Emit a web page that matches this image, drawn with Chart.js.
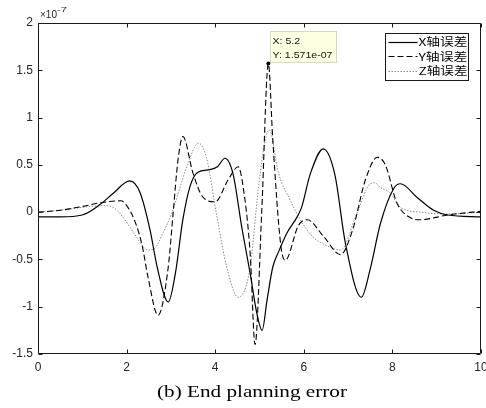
<!DOCTYPE html>
<html>
<head>
<meta charset="utf-8">
<script src="https://cdn.jsdelivr.net/npm/chart.js@4.4.1/dist/chart.umd.min.js"></script>
<style>
  html, body { margin: 0; padding: 0; background: #fff; }
  #wrap { width: 486px; height: 408px; }
</style>
</head>
<body>
<div id="wrap"><canvas id="errChart" width="486" height="408"></canvas></div>
<script>
// error values are stored in units of 1e-7
const EXPONENT = -7;
const xTicks = [0, 2, 4, 6, 8, 10];
const yTicks = [-1.5, -1, -0.5, 0, 0.5, 1, 1.5, 2];
const seriesNames = ["X轴误差", "Y轴误差", "Z轴误差"];
const caption = "(b) End planning error";

const tX = [0, 0.5, 1.0, 1.4, 1.7, 2.07, 2.3, 2.53, 2.69, 2.94, 3.1, 3.27, 3.43, 3.6, 3.88, 4.05, 4.22, 4.4, 4.6, 4.79, 4.94, 5.06, 5.17, 5.3, 5.43, 5.62, 5.85, 5.95, 6.15, 6.44, 6.7, 6.94, 7.3, 7.5, 7.73, 8.03, 8.18, 8.57, 8.93, 9.25, 10];
const errX = [-0.05, -0.05, -0.03, 0.08, 0.2, 0.33, 0.21, -0.19, -0.58, -0.95, -0.65, -0.08, 0.27, 0.42, 0.45, 0.48, 0.57, 0.41, -0.16, -0.65, -1.07, -1.25, -0.93, -0.58, -0.42, -0.22, -0.05, 0.05, 0.41, 0.67, 0.4, -0.33, -0.9, -0.6, -0.12, 0.25, 0.3, 0.15, 0.02, -0.03, -0.05];

const tY = [0, 0.5, 1.0, 1.42, 1.87, 2.03, 2.19, 2.35, 2.48, 2.71, 2.94, 3.05, 3.16, 3.27, 3.5, 3.72, 4.0, 4.29, 4.52, 4.63, 4.79, 4.9, 5.05, 5.2, 5.3, 5.48, 5.58, 5.88, 6.08, 6.45, 6.83, 7.1, 7.39, 7.66, 7.84, 8.1, 8.41, 8.63, 9.25, 10];
const errY = [0.0, 0.02, 0.06, 0.1, 0.12, 0.05, -0.1, -0.35, -0.68, -1.09, -0.58, -0.01, 0.55, 0.8, 0.41, 0.16, 0.11, 0.34, 0.48, 0.27, -0.44, -1.4, 0.0, 1.571, 0.76, -0.35, -0.51, -0.14, -0.08, -0.26, -0.45, -0.19, 0.34, 0.58, 0.5, 0.1, -0.06, -0.08, -0.03, 0.01];

const tZ = [0, 0.5, 1.0, 1.5, 1.73, 1.96, 2.19, 2.48, 2.64, 2.82, 3.02, 3.36, 3.62, 3.8, 4.04, 4.26, 4.52, 4.79, 4.97, 5.13, 5.22, 5.43, 5.69, 5.92, 6.2, 6.5, 6.83, 7.2, 7.5, 7.6, 7.73, 7.95, 8.18, 8.63, 9.25, 10];
const errZ = [0.0, 0.02, 0.05, 0.07, 0.04, -0.08, -0.24, -0.4, -0.38, -0.22, -0.01, 0.48, 0.73, 0.58, -0.05, -0.58, -0.9, -0.58, 0.23, 0.76, 0.87, 0.41, 0.13, -0.08, -0.26, -0.35, -0.4, -0.01, 0.3, 0.31, 0.26, 0.2, 0.05, 0.0, -0.02, 0.0];

// data tip on the Y error peak
const tipX = 5.2;
const tipY = 1.571;

const toPoints = (xs, ys) => xs.map((x, i) => ({ x: x, y: ys[i] }));

const tickFont = { family: "'Liberation Sans', Arial, sans-serif", size: 12 };
const tickColor = "#262626";

// helper: draw text stretched horizontally to a given width
const drawFitted = (ctx, text, x, y, width) => {
  const w = ctx.measureText(text).width;
  ctx.save();
  ctx.translate(x, y);
  ctx.scale(width / w, 1);
  ctx.fillText(text, 0, 0);
  ctx.restore();
};

const formatExp = (v) => {
  const [m, e] = (v * Math.pow(10, EXPONENT)).toExponential(3).split("e");
  const n = parseInt(e, 10);
  return `${m}e${n < 0 ? "-" : "+"}${String(Math.abs(n)).padStart(2, "0")}`;
};

// box with inner ticks on all four sides
const axesFrame = {
  id: "axesFrame",
  afterDatasetsDraw(chart) {
    const { ctx, chartArea: a, scales } = chart;
    const L = Math.round(a.left) + 0.5;
    const R = Math.round(a.right) - 0.5;
    const T = Math.round(a.top) + 0.5;
    const B = Math.round(a.bottom) - 0.5;
    ctx.save();
    ctx.strokeStyle = "#1a1a1a";
    ctx.lineWidth = 1;
    ctx.beginPath();
    ctx.rect(L, T, R - L, B - T);
    xTicks.forEach((v) => {
      const px = Math.round(scales.x.getPixelForValue(v)) + 0.5;
      ctx.moveTo(px, B);
      ctx.lineTo(px, B - 4);
      ctx.moveTo(px, T);
      ctx.lineTo(px, T + 4);
    });
    yTicks.forEach((v) => {
      const py = Math.round(scales.y.getPixelForValue(v)) + 0.5;
      ctx.moveTo(L, py);
      ctx.lineTo(L + 4, py);
      ctx.moveTo(R, py);
      ctx.lineTo(R - 4, py);
    });
    ctx.stroke();

    // x10^-7 multiplier above the y axis
    ctx.fillStyle = tickColor;
    ctx.textBaseline = "alphabetic";
    ctx.font = "11px 'Liberation Sans', Arial, sans-serif";
    drawFitted(ctx, "\u00d710", a.left + 2, a.top - 5, 17);
    ctx.font = "8px 'Liberation Sans', Arial, sans-serif";
    drawFitted(ctx, String(EXPONENT), a.left + 19, a.top - 11, 10);
    ctx.restore();
  },
};

// legend box in the upper right corner
const cornerLegend = {
  id: "cornerLegend",
  afterDraw(chart) {
    const { ctx, chartArea: a } = chart;
    const boxL = Math.round(a.right) - 95.5;
    const boxT = Math.round(a.top) + 10.5;
    const boxW = 83;
    const boxH = 47;
    ctx.save();
    ctx.fillStyle = "#fff";
    ctx.fillRect(boxL, boxT, boxW, boxH);
    ctx.strokeStyle = "#1a1a1a";
    ctx.lineWidth = 1;
    ctx.strokeRect(boxL, boxT, boxW, boxH);
    ctx.font = "11px 'Noto Sans CJK SC', 'Liberation Sans', sans-serif";
    ctx.textBaseline = "middle";
    chart.data.datasets.forEach((ds, i) => {
      const rowY = boxT + 8 + i * 14.5;
      ctx.strokeStyle = ds.borderColor;
      ctx.lineWidth = ds.borderWidth;
      ctx.setLineDash(ds.borderDash || []);
      ctx.beginPath();
      ctx.moveTo(boxL + 3, Math.round(rowY) + 0.5);
      ctx.lineTo(boxL + 32, Math.round(rowY) + 0.5);
      ctx.stroke();
      ctx.setLineDash([]);
      ctx.fillStyle = "#000";
      drawFitted(ctx, ds.label, boxL + 33, rowY + 0.5, 49);
    });
    ctx.restore();
  },
};

// data tip next to the marked point
const dataTip = {
  id: "dataTip",
  afterDraw(chart) {
    const { ctx, scales } = chart;
    const px = scales.x.getPixelForValue(tipX);
    const py = scales.y.getPixelForValue(tipY);
    const boxL = Math.round(px) + 2.5;
    const boxB = Math.round(py) - 1.5;
    const boxW = 66;
    const boxH = 31;
    ctx.save();
    ctx.fillStyle = "#ffffe1";
    ctx.fillRect(boxL, boxB - boxH, boxW, boxH);
    ctx.strokeStyle = "#d8d8c0";
    ctx.lineWidth = 1;
    ctx.strokeRect(boxL, boxB - boxH, boxW, boxH);
    ctx.fillStyle = "#111";
    ctx.font = "9px 'Liberation Sans', Arial, sans-serif";
    ctx.textBaseline = "alphabetic";
    const line1 = `X: ${tipX}`;
    const line2 = `Y: ${formatExp(tipY)}`;
    const w2 = ctx.measureText(line2).width;
    const k = 60 / w2;
    drawFitted(ctx, line1, boxL + 2, boxB - boxH + 12, ctx.measureText(line1).width * k);
    drawFitted(ctx, line2, boxL + 2, boxB - boxH + 26, 60);
    ctx.restore();
  },
};

// figure caption under the axes
const figCaption = {
  id: "figCaption",
  afterDraw(chart) {
    const { ctx } = chart;
    ctx.save();
    ctx.fillStyle = "#000";
    ctx.font = "17px 'Liberation Serif', 'Times New Roman', serif";
    ctx.textBaseline = "alphabetic";
    const w = 190;
    drawFitted(ctx, caption, 252 - w / 2, 397, w);
    ctx.restore();
  },
};

const config = {
  type: "line",
  data: {
    datasets: [
      {
        label: seriesNames[0],
        data: toPoints(tX, errX),
        borderColor: "#000",
        borderWidth: 1.2,
        borderDash: [],
        pointRadius: 0,
      },
      {
        label: seriesNames[1],
        data: toPoints(tY, errY),
        borderColor: "#000",
        borderWidth: 1.1,
        borderDash: [6, 3],
        pointRadius: (c) => (c.raw && c.raw.x === tipX ? 2 : 0),
        pointBackgroundColor: "#000",
        pointBorderWidth: 0,
      },
      {
        label: seriesNames[2],
        data: toPoints(tZ, errZ),
        borderColor: "#8a8a8a",
        borderWidth: 1,
        borderDash: [1.5, 1.5],
        pointRadius: 0,
      },
    ],
  },
  options: {
    responsive: false,
    animation: false,
    devicePixelRatio: 1,
    events: [],
    elements: {
      line: {
        cubicInterpolationMode: "monotone",
      },
    },
    layout: {
      autoPadding: false,
      padding: { left: 0, right: 5, top: 23, bottom: 0 },
    },
    plugins: {
      legend: { display: false },
      tooltip: { enabled: false },
    },
    scales: {
      x: {
        type: "linear",
        min: 0,
        max: 10,
        afterBuildTicks: (s) => {
          s.ticks = xTicks.map((v) => ({ value: v }));
        },
        afterFit: (s) => {
          s.height = 54;
          s.paddingLeft = 0;
          s.paddingRight = 0;
        },
        grid: { display: false, drawTicks: false },
        border: { display: false },
        ticks: {
          padding: 6,
          maxRotation: 0,
          autoSkip: false,
          font: tickFont,
          color: tickColor,
          callback: (v) => String(v),
        },
      },
      y: {
        type: "linear",
        min: -1.5,
        max: 2,
        afterBuildTicks: (s) => {
          s.ticks = yTicks.map((v) => ({ value: v }));
        },
        afterFit: (s) => {
          s.width = 38;
          s.paddingTop = 0;
          s.paddingBottom = 0;
        },
        grid: { display: false, drawTicks: false },
        border: { display: false },
        ticks: {
          padding: 5,
          autoSkip: false,
          font: tickFont,
          color: tickColor,
          callback: (v) => String(v),
        },
      },
    },
  },
  plugins: [axesFrame, cornerLegend, dataTip, figCaption],
};

new Chart(document.getElementById("errChart"), config);
</script>
</body>
</html>
